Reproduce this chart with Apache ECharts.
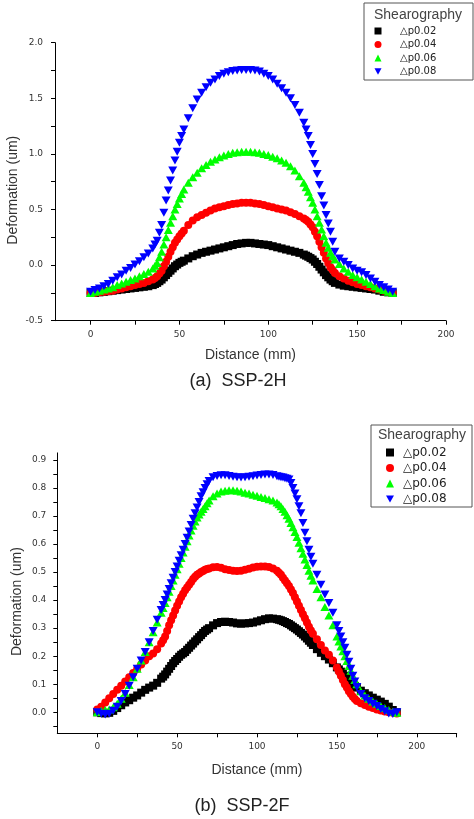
<!DOCTYPE html>
<html><head><meta charset="utf-8">
<script src="https://cdn.jsdelivr.net/npm/echarts@6/dist/echarts.min.js"></script>
<style>html,body{margin:0;padding:0;background:#fff}#c{width:474px;height:819px}</style>
</head><body><div id="c"></div>
<script>
const seriesNames = ['△p0.02', '△p0.04', '△p0.06', '△p0.08'];
const legendTitle = 'Shearography';
const captionA = '(a)  SSP-2H';
const captionB = '(b)  SSP-2F';
const xTitle = 'Distance (mm)';
const yTitle = 'Deformation (um)';

// ---- (a) SSP-2H ----
const c1Distance = [0,2.5,5,7.5,10,12.5,15,17.5,20,22.5,25,27.5,30,32.5,35,37.5,40,42.5,45,47.5,50,52.5,55,57.5,60,62.5,65,67.5,70,72.5,75,77.5,80,82.5,85,87.5,90,92.5,95,97.5,100,102.5,105,107.5,110,112.5,115,117.5,120,122.5,125,127.5,130,132.5,135,137.5,140,142.5,145,147.5,150,152.5,155,157.5,160,162.5,165,167.5,170];
const c1P002 = [-0.25,-0.25,-0.245,-0.24,-0.235,-0.23,-0.225,-0.22,-0.215,-0.21,
 -0.205,-0.2,-0.195,-0.19,-0.18,-0.16,-0.13,-0.09,-0.05,-0.01,
 0.02,0.04,0.06,0.08,0.095,0.11,0.12,0.13,0.14,0.15,
 0.16,0.17,0.18,0.19,0.195,0.2,0.2,0.195,0.19,0.185,
 0.18,0.17,0.16,0.15,0.14,0.13,0.12,0.11,0.095,0.075,
 0.05,0.01,-0.04,-0.09,-0.13,-0.16,-0.175,-0.185,-0.19,-0.195,
 -0.2,-0.205,-0.21,-0.215,-0.22,-0.23,-0.24,-0.245,-0.25];
const c1P004 = [-0.25,-0.25,-0.245,-0.24,-0.235,-0.23,-0.22,-0.21,-0.2,-0.19,
 -0.18,-0.17,-0.16,-0.145,-0.13,-0.1,-0.05,0.03,0.12,0.2,
 0.26,0.31,0.36,0.4,0.43,0.45,0.47,0.49,0.51,0.52,
 0.53,0.54,0.55,0.555,0.56,0.56,0.56,0.555,0.55,0.54,
 0.53,0.52,0.51,0.5,0.49,0.475,0.46,0.44,0.42,0.39,
 0.34,0.26,0.16,0.06,-0.02,-0.07,-0.1,-0.12,-0.14,-0.155,
 -0.17,-0.18,-0.19,-0.2,-0.21,-0.22,-0.23,-0.24,-0.25];
const c1P006 = [-0.25,-0.24,-0.23,-0.22,-0.21,-0.2,-0.18,-0.165,-0.15,-0.135,
 -0.12,-0.1,-0.08,-0.06,-0.03,0.02,0.12,0.25,0.38,0.5,
 0.6,0.68,0.74,0.79,0.83,0.87,0.9,0.93,0.95,0.97,
 0.985,1.0,1.01,1.015,1.02,1.02,1.02,1.015,1.01,1.0,
 0.99,0.975,0.96,0.94,0.92,0.89,0.85,0.8,0.74,0.66,
 0.56,0.44,0.32,0.2,0.11,0.05,0.01,-0.03,-0.06,-0.09,
 -0.11,-0.13,-0.15,-0.17,-0.19,-0.21,-0.225,-0.24,-0.25];
const c1P008 = [-0.24,-0.225,-0.21,-0.19,-0.17,-0.14,-0.11,-0.085,-0.05,-0.025,
 0.005,0.035,0.07,0.105,0.15,0.22,0.36,0.58,0.76,0.94,
 1.1,1.22,1.32,1.41,1.49,1.55,1.6,1.64,1.67,1.7,
 1.72,1.735,1.745,1.75,1.755,1.755,1.755,1.75,1.74,1.72,
 1.7,1.67,1.63,1.59,1.55,1.5,1.44,1.37,1.28,1.16,
 1.0,0.82,0.62,0.45,0.3,0.12,0.06,0.03,0.0,-0.03,
 -0.05,-0.065,-0.09,-0.12,-0.15,-0.18,-0.2,-0.22,-0.24];
// extra readings on the steep flanks
const c1MidDistance = [36.25,38.75,41.25,43.75,46.25,48.75,51.25,121.25,123.75,126.25,128.75,131.25,133.75,136.25];
const c1MidP002 = [-0.17,-0.145,-0.11,-0.07,-0.03,0.005,0.03,0.085,0.063,0.03,-0.015,-0.065,-0.11,-0.145];
const c1MidP004 = [-0.115,-0.075,-0.01,0.075,0.16,0.23,0.285,0.405,0.365,0.3,0.21,0.11,0.02,-0.045];
const c1MidP006 = [-0.005,0.07,0.185,0.315,0.44,0.55,0.64,0.7,0.61,0.5,0.38,0.26,0.155,0.08];
const c1MidP008 = [0.185,0.29,0.47,0.67,0.85,1.02,1.16,1.22,1.08,0.91,0.72,0.535,0.375,0.21];
const c1XTicks = [0,25,50,75,100,125,150,175,200];
const c1XLabels = [0,50,100,150,200];
const c1YTicks = [-0.5,-0.25,0,0.25,0.5,0.75,1,1.25,1.5,1.75,2];
const c1YLabels = [-0.5,0,0.5,1,1.5,2];

// ---- (b) SSP-2F ----
const c2Distance = [0,2.5,5,7.5,10,12.5,15,17.5,20,22.5,25,27.5,30,32.5,35,37.5,40,42.5,45,47.5,50,52.5,55,57.5,60,62.5,65,67.5,70,72.5,75,77.5,80,82.5,85,87.5,90,92.5,95,97.5,100,102.5,105,107.5,110,112.5,115,117.5,120,122.5,125,127.5,130,132.5,135,137.5,140,142.5,145,147.5,150,152.5,155,157.5,160,162.5,165,167.5,170,172.5,175,177.5,180,182.5,185,187.5];
const c2P002 = [0.0,-0.003,-0.004,-0.002,0.005,0.015,0.025,0.035,0.043,0.052,
 0.06,0.07,0.08,0.088,0.095,0.105,0.12,0.135,0.155,0.175,
 0.19,0.205,0.215,0.23,0.245,0.26,0.275,0.29,0.3,0.31,
 0.318,0.322,0.323,0.322,0.32,0.317,0.316,0.317,0.318,0.32,
 0.324,0.328,0.332,0.335,0.334,0.332,0.328,0.322,0.315,0.305,
 0.295,0.283,0.27,0.255,0.24,0.225,0.212,0.2,0.188,0.175,
 0.16,0.145,0.13,0.115,0.1,0.088,0.077,0.068,0.06,0.052,
 0.045,0.038,0.03,0.02,0.008,0.0];
const c2P004 = [0.01,0.02,0.035,0.05,0.065,0.08,0.095,0.11,0.125,0.14,
 0.155,0.17,0.185,0.2,0.21,0.225,0.245,0.27,0.31,0.345,
 0.38,0.41,0.435,0.455,0.475,0.49,0.5,0.508,0.513,0.517,
 0.518,0.515,0.51,0.507,0.505,0.504,0.505,0.508,0.512,0.516,
 0.519,0.52,0.52,0.518,0.513,0.505,0.49,0.47,0.45,0.425,
 0.395,0.365,0.335,0.305,0.28,0.26,0.24,0.22,0.205,0.185,
 0.16,0.13,0.1,0.075,0.055,0.04,0.032,0.026,0.02,0.015,
 0.01,0.006,0.003,0.0,-0.002,-0.004];
const c2P006 = [0.0,0.005,0.008,0.01,0.018,0.03,0.048,0.07,0.097,0.125,
 0.155,0.185,0.215,0.25,0.285,0.32,0.355,0.39,0.43,0.47,
 0.51,0.55,0.59,0.63,0.665,0.695,0.715,0.735,0.755,0.77,
 0.78,0.787,0.79,0.792,0.792,0.79,0.787,0.783,0.78,0.776,
 0.772,0.768,0.764,0.76,0.755,0.748,0.735,0.715,0.69,0.66,
 0.625,0.585,0.545,0.505,0.47,0.44,0.41,0.375,0.345,0.31,
 0.27,0.235,0.2,0.165,0.13,0.1,0.075,0.06,0.048,0.038,
 0.03,0.022,0.015,0.008,0.002,-0.002];
const c2P008 = [0.0,-0.005,-0.008,-0.005,0.005,0.02,0.04,0.065,0.095,0.125,
 0.155,0.185,0.215,0.25,0.29,0.33,0.365,0.4,0.44,0.48,
 0.52,0.56,0.6,0.645,0.69,0.73,0.77,0.8,0.825,0.838,
 0.843,0.845,0.845,0.843,0.84,0.838,0.837,0.838,0.84,0.842,
 0.844,0.846,0.848,0.848,0.846,0.842,0.838,0.835,0.83,0.8,
 0.76,0.71,0.64,0.58,0.53,0.49,0.455,0.42,0.39,0.355,
 0.31,0.27,0.23,0.18,0.13,0.09,0.065,0.05,0.04,0.03,
 0.022,0.012,0.004,-0.004,-0.006,0.0];
// extra readings on the steep flanks
const c2MidDistance = [41.25,43.75,46.25,48.75,51.25,53.75,56.25,58.75,61.25,63.75,66.25,68.75,
 113.75,116.25,118.75,121.25,123.75,126.25,128.75,131.25,133.75,151.25,153.75,156.25,158.75,161.25];
const c2MidP002 = [0.127,0.145,0.165,0.183,0.198,0.21,0.223,0.238,0.253,0.268,0.283,0.295,
 0.33,0.325,0.318,0.31,0.3,0.289,0.277,0.263,0.248,0.153,0.138,0.123,0.108,0.094];
const c2MidP004 = [0.257,0.29,0.328,0.363,0.395,0.423,0.445,0.465,0.483,0.495,0.504,0.511,
 0.498,0.48,0.46,0.438,0.41,0.38,0.35,0.32,0.292,0.145,0.115,0.088,0.065,0.047];
const c2MidP006 = [0.372,0.41,0.45,0.49,0.53,0.57,0.61,0.648,0.68,0.705,0.725,0.745,
 0.742,0.725,0.703,0.675,0.643,0.605,0.565,0.525,0.487,0.252,0.218,0.183,0.148,0.115];
const c2MidP008 = [0.383,0.42,0.46,0.5,0.54,0.58,0.622,0.668,0.71,0.75,0.785,0.813,
 0.84,0.837,0.833,0.818,0.78,0.735,0.675,0.61,0.555,0.29,0.25,0.205,0.155,0.11];
const c2XTicks = [0,25,50,75,100,125,150,175,200,225];
const c2XLabels = [0,50,100,150,200];
const c2YTicks = [-0.05,0,0.05,0.1,0.15,0.2,0.25,0.3,0.35,0.4,0.45,0.5,0.55,0.6,0.65,0.7,0.75,0.8,0.85,0.9];
const c2YLabels = [0,0.1,0.2,0.3,0.4,0.5,0.6,0.7,0.8,0.9];

const colors = ['#000000', '#ff0000', '#00ff00', '#0000ff'];
const symbols = ['rect', 'circle', 'triangle', 'path://M0,0L10,0L5,9Z'];
const symSizes = [[8,8], 8, [9,8], [9,8]];

const pair = (xs, ys) => xs.map((x, i) => [x, ys[i]]);
const c1Sets = [c1P002, c1P004, c1P006, c1P008];
const c1Mids = [c1MidP002, c1MidP004, c1MidP006, c1MidP008];
const c2Sets = [c2P002, c2P004, c2P006, c2P008];
const c2Mids = [c2MidP002, c2MidP004, c2MidP006, c2MidP008];
const byX = (a, b) => a[0] - b[0];

const series = [];
c1Sets.forEach((ys, k) => series.push({
  type: 'scatter', name: seriesNames[k], xAxisIndex: 0, yAxisIndex: 0,
  data: pair(c1Distance, ys).concat(pair(c1MidDistance, c1Mids[k])).sort(byX),
  symbol: symbols[k], symbolSize: symSizes[k],
  itemStyle: { color: colors[k], opacity: 1 }, silent: true, animation: false
}));
c2Sets.forEach((ys, k) => series.push({
  type: 'scatter', name: seriesNames[k], xAxisIndex: 1, yAxisIndex: 1,
  data: pair(c2Distance, ys).concat(pair(c2MidDistance, c2Mids[k])).sort(byX),
  symbol: symbols[k], symbolSize: symSizes[k],
  itemStyle: { color: colors[k], opacity: 1 }, silent: true, animation: false
}));

const tickFont = { fontSize: 9, color: '#333', fontFamily: 'DejaVu Sans' };
const nameFont = { fontSize: 14, color: '#333', fontFamily: 'Liberation Sans' };
const line = { onZero: false, lineStyle: { color: '#000', width: 1 } };

function xAx(gi, min, max, ticks, labels, gap) {
  return { gridIndex: gi, type: 'value', min: min, max: max,
    axisLine: line, splitLine: { show: false },
    axisTick: { customValues: ticks, length: 4, lineStyle: { color: '#000' } },
    axisLabel: Object.assign({ customValues: labels, margin: 9 }, tickFont),
    name: xTitle, nameLocation: 'middle', nameGap: gap, nameMoveOverlap: false, nameTextStyle: nameFont };
}
function yAx(gi, min, max, ticks, labels, gap, margin) {
  return { gridIndex: gi, type: 'value', min: min, max: max,
    axisLine: line, splitLine: { show: false },
    axisTick: { customValues: ticks, length: 4, lineStyle: { color: '#000' } },
    axisLabel: Object.assign({ customValues: labels, margin: margin,
      formatter: v => Number(v).toFixed(1) }, tickFont),
    name: yTitle, nameLocation: 'middle', nameGap: gap, nameMoveOverlap: false,
    nameTextStyle: Object.assign({ padding: [0, 17, 0, 0] }, nameFont) };
}

const chart = echarts.init(document.getElementById('c'), null, { renderer: 'canvas' });
chart.setOption({
  animation: false,
  backgroundColor: '#fff',
  grid: [
    { left: 55, top: 42.7, width: 391, height: 278, outerBoundsMode: 'none', containLabel: false },
    { left: 57.3, top: 452.9, width: 399.4, height: 280.4, outerBoundsMode: 'none', containLabel: false }
  ],
  xAxis: [ xAx(0, -20, 200, c1XTicks, c1XLabels, 27.5), xAx(1, -25, 225, c2XTicks, c2XLabels, 29.5) ],
  yAxis: [ yAx(0, -0.5, 2.0, c1YTicks, c1YLabels, 35, 12), yAx(1, -0.075, 0.925, c2YTicks, c2YLabels, 33.5, 11) ],
  legend: [
    { orient: 'vertical', left: 374.5, top: 24.5, padding: 0, itemWidth: 7, itemHeight: 7, itemGap: 0.5,
      selectedMode: false, data: seriesNames,
      formatter: n => '{t|' + n + '}',
      textStyle: { fontSize: 10, lineHeight: 13, color: '#222', fontFamily: 'DejaVu Sans',
        rich: { t: { fontSize: 10, lineHeight: 13, color: '#222', fontFamily: 'DejaVu Sans', padding: [0, 0, 0, 13.5] } } } },
    { orient: 'vertical', left: 386, top: 445, padding: 0, itemWidth: 8, itemHeight: 8, itemGap: 0.5,
      selectedMode: false, data: seriesNames,
      formatter: n => '{t|' + n + '}',
      textStyle: { fontSize: 12, lineHeight: 15, color: '#222', fontFamily: 'DejaVu Sans',
        rich: { t: { fontSize: 12, lineHeight: 15, color: '#222', fontFamily: 'DejaVu Sans', padding: [0, 0, 0, 4] } } } }
  ],
  graphic: [
    { type: 'rect', z: 1, shape: { x: 364, y: 3, width: 109, height: 77 },
      style: { fill: '#fff', stroke: '#555', lineWidth: 1 } },
    { type: 'text', z: 5, x: 374, y: 15,
      style: { text: legendTitle, fill: '#444', font: '14px "Liberation Sans"', verticalAlign: 'middle', textVerticalAlign: 'middle' } },
    { type: 'rect', z: 1, shape: { x: 371, y: 425, width: 101, height: 82 },
      style: { fill: '#fff', stroke: '#555', lineWidth: 1 } },
    { type: 'text', z: 5, x: 378, y: 435,
      style: { text: legendTitle, fill: '#444', font: '14px "Liberation Sans"', verticalAlign: 'middle', textVerticalAlign: 'middle' } },
    { type: 'text', z: 5, x: 238, y: 381,
      style: { text: captionA, fill: '#222', font: '18px "Liberation Sans"', align: 'center', textAlign: 'center', verticalAlign: 'middle', textVerticalAlign: 'middle' } },
    { type: 'text', z: 5, x: 242, y: 806,
      style: { text: captionB, fill: '#222', font: '18px "Liberation Sans"', align: 'center', textAlign: 'center', verticalAlign: 'middle', textVerticalAlign: 'middle' } }
  ],
  series: series
});
</script>
</body></html>
